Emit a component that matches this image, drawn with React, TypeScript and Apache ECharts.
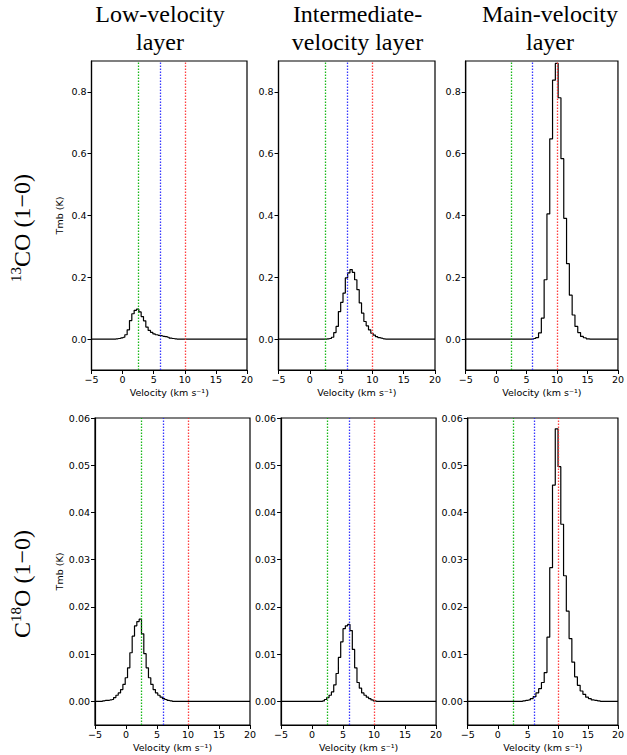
import * as echarts from 'echarts';
import React, { useEffect, useRef } from 'react';

// axis ticks
const velocityTicks = [-5, 0, 5, 10, 15, 20];
const tmbTicksCO13 = [0, 0.2, 0.4, 0.6, 0.8];
const tmbTicksC18O = [0, 0.01, 0.02, 0.03, 0.04, 0.05, 0.06];

const layerTitles = [['Low-velocity', 'layer'], ['Intermediate-', 'velocity layer'], ['Main-velocity', 'layer']];
const layerVelocities = [2.5, 6, 10];
const layerColors = ['#00b000', '#2020ff', '#ff2a2a'];

// first channel centre and channel width (km/s), rows: 13CO, C18O
const channelStart = [[-0.955, 2.9, 6.27], [-3.69, 1.8, 4.28]];
const channelWidth = [[0.375, 0.37, 0.46], [0.375, 0.375, 0.46]];

// 13CO (1-0) Tmb (K)
const co13Low = [0.001, 0.002, 0.004, 0.006, 0.014, 0.030, 0.060, 0.082, 0.093, 0.097, 0.088, 0.073, 0.059, 0.039, 0.028, 0.022, 0.017, 0.014, 0.012, 0.011, 0.009, 0.008, 0.006, 0.003, 0.002, 0.001];
const co13Mid = [0.001, 0.002, 0.006, 0.021, 0.041, 0.089, 0.119, 0.149, 0.198, 0.214, 0.225, 0.216, 0.192, 0.160, 0.117, 0.084, 0.057, 0.043, 0.030, 0.019, 0.013, 0.008, 0.005, 0.003, 0.001];
const co13Main = [0.002, 0.005, 0.020, 0.068, 0.192, 0.405, 0.648, 0.838, 0.892, 0.781, 0.584, 0.391, 0.244, 0.142, 0.078, 0.041, 0.021, 0.0085, 0.0043, 0.001];

// C18O (1-0) Tmb (K)
const c18oLow = [0.0001, 0.0002, 0.0002, 0.0003, 0.0004, 0.0008, 0.0013, 0.0018, 0.0025, 0.0036, 0.0050, 0.0071, 0.0103, 0.0138, 0.0160, 0.0169, 0.0174, 0.0143, 0.0101, 0.0071, 0.0050, 0.0036, 0.0025, 0.0018, 0.0013, 0.0009, 0.0006, 0.0004, 0.0002, 0.0001];
const c18oMid = [0.0001, 0.0004, 0.0008, 0.0013, 0.0020, 0.0035, 0.0059, 0.0093, 0.0126, 0.0154, 0.0160, 0.0163, 0.0150, 0.0110, 0.0071, 0.0040, 0.0028, 0.0018, 0.0013, 0.0009, 0.0006, 0.0003, 0.0001];
const c18oMain = [0.0001, 0.0002, 0.0003, 0.0006, 0.0010, 0.0018, 0.0027, 0.0040, 0.0061, 0.0136, 0.0283, 0.0458, 0.0577, 0.0497, 0.0375, 0.0266, 0.0191, 0.0133, 0.0083, 0.0052, 0.0034, 0.0022, 0.0015, 0.0009, 0.0006, 0.0003, 0.0002, 0.0001];

const spectra = [[co13Low, co13Mid, co13Main], [c18oLow, c18oMid, c18oMain]];

const rowTicks = [tmbTicksCO13, tmbTicksC18O];
const rowRange = [[-0.1, 0.9], [-0.005, 0.06]];
const rowDigits = [1, 2];

// panel layout (px)
const rowTop = [61, 418];
const rowHeight = [309, 307];
const colLeft = [[91.5, 278.5, 465.7], [95, 281.1, 467.7]];
const colWidth = [[155.5, 156.5, 156], [155, 155, 154]];
const titleX = [160, 357.5, 550];

const FONT = 'DejaVu Sans';
const SERIF = '"Liberation Serif", "Times New Roman", serif';

const stepData = (v0: number, dv: number, vals: number[]) => {
    const pts: number[][] = [[-5, 0], [v0 - dv, 0]];
    vals.forEach((t, i) => pts.push([v0 + i * dv, t]));
    pts.push([v0 + vals.length * dv, 0], [20, 0]);
    return pts;
};

const minus = (s: string) => s.replace('-', '\u2212');

const buildOption = () => {
    const grid: any[] = [];
    const xAxis: any[] = [];
    const yAxis: any[] = [];
    const series: any[] = [];

    for (let r = 0; r < 2; r++) {
        for (let c = 0; c < 3; c++) {
            const idx = grid.length;
            grid.push({
                left: colLeft[r][c],
                top: rowTop[r],
                width: colWidth[r][c],
                height: rowHeight[r],
                show: true,
                borderColor: '#000',
                borderWidth: 1.2,
                backgroundColor: 'transparent'
            });
            xAxis.push({
                type: 'value',
                gridIndex: idx,
                min: -5,
                max: 20,
                interval: 5,
                name: 'Velocity (km s\u207B\u00B9)',
                nameLocation: 'middle',
                nameGap: 17,
                nameTextStyle: { fontFamily: FONT, fontSize: 9.5, color: '#000' },
                axisLine: { show: true, onZero: false, lineStyle: { color: '#000', width: 1.2 } },
                axisTick: { show: true, length: 4, lineStyle: { color: '#000', width: 1 }, customValues: velocityTicks },
                axisLabel: {
                    fontFamily: FONT, fontSize: 9.5, color: '#000', margin: 4,
                    customValues: velocityTicks,
                    formatter: (v: number) => minus(String(v))
                },
                splitLine: { show: false }
            });
            yAxis.push({
                type: 'value',
                gridIndex: idx,
                min: rowRange[r][0],
                max: rowRange[r][1],
                name: c === 0 ? 'Tmb (K)' : '',
                nameLocation: 'middle',
                nameGap: 27,
                nameTextStyle: { fontFamily: FONT, fontSize: 9.5, color: '#000' },
                axisLine: { show: true, onZero: false, lineStyle: { color: '#000', width: 1.2 } },
                axisTick: { show: true, length: 4, lineStyle: { color: '#000', width: 1 }, customValues: rowTicks[r] },
                axisLabel: {
                    fontFamily: FONT, fontSize: 9.5, color: '#000', margin: 5,
                    customValues: rowTicks[r],
                    formatter: (v: number) => v.toFixed(rowDigits[r])
                },
                splitLine: { show: false }
            });
            series.push({
                type: 'line',
                xAxisIndex: idx,
                yAxisIndex: idx,
                step: 'middle',
                showSymbol: false,
                symbol: 'none',
                silent: true,
                lineStyle: { color: '#000', width: 1.2 },
                data: stepData(channelStart[r][c], channelWidth[r][c], spectra[r][c]),
                markLine: {
                    silent: true,
                    symbol: ['none', 'none'],
                    label: { show: false },
                    emphasis: { disabled: true },
                    data: layerVelocities.map((v, k) => ({
                        xAxis: v,
                        lineStyle: { color: layerColors[k], type: [1.4, 1.6], width: 1.3, opacity: 0.9 }
                    }))
                }
            });
        }
    }

    const titleRich = {
        t: { fontFamily: SERIF, fontSize: 24, lineHeight: 28.3, fill: '#000' }
    };
    const graphic: any[] = layerTitles.map((lines, c) => ({
        type: 'text',
        x: titleX[c],
        y: 27.8,
        style: {
            text: lines.map((l) => `{t|${l}}`).join('\n'),
            rich: titleRich,
            font: `24px ${SERIF}`,
            fill: '#000',
            align: 'center',
            verticalAlign: 'middle'
        }
    }));

    const rich = {
        n: { fontFamily: SERIF, fontSize: 24, lineHeight: 26, verticalAlign: 'bottom', fill: '#000' },
        s: { fontFamily: SERIF, fontSize: 15, lineHeight: 26, verticalAlign: 'top', fill: '#000' }
    };
    const rowLabels = ['{s|13}{n|CO (1\u22120)}', '{n|C}{s|18}{n|O (1\u22120)}'];
    const rowLabelY = [228, 584];
    rowLabels.forEach((t, r) => {
        graphic.push({
            type: 'text',
            x: 21,
            y: rowLabelY[r],
            rotation: Math.PI / 2,
            style: {
                text: t,
                rich,
                font: `24px ${SERIF}`,
                fill: '#000',
                align: 'center',
                verticalAlign: 'middle'
            }
        });
    });

    return { animation: false, grid, xAxis, yAxis, series, graphic };
};

const App: React.FC = () => {
    const chartRef = useRef<HTMLDivElement>(null);

    useEffect(() => {
        if (!chartRef.current) return;
        const chart = echarts.init(chartRef.current, undefined, { renderer: 'svg' });
        chart.setOption(buildOption());
        return () => {
            chart.dispose();
        };
    }, []);

    return (
        <div
            ref={chartRef}
            style={{ position: 'fixed', left: 0, top: 0, width: 627, height: 755, background: '#fff' }}
        />
    );
};

export default App;
